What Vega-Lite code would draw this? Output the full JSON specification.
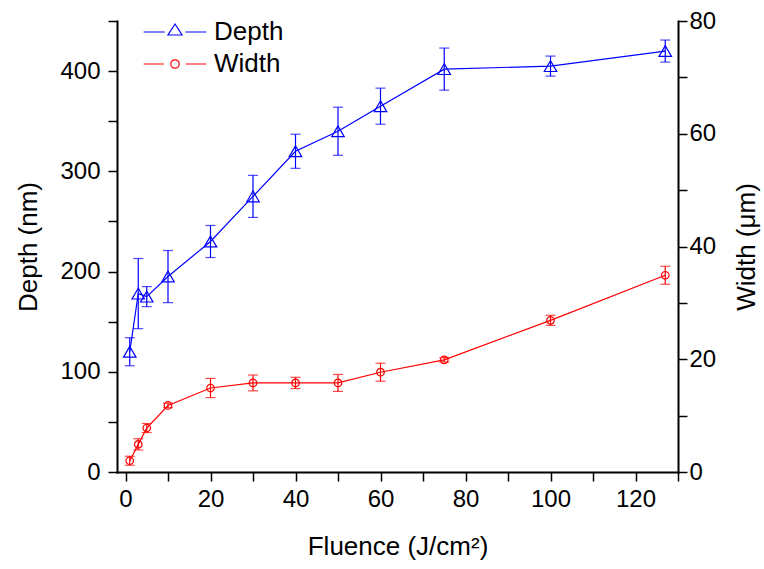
{
  "$schema": "https://vega.github.io/schema/vega-lite/v6.json",
  "width": 561,
  "height": 451,
  "autosize": "none",
  "padding": {"left": 117, "top": 21, "right": 86, "bottom": 97},
  "background": "white",
  "config": {
    "view": {"stroke": null},
    "font": "Liberation Sans",
    "axis": {
      "grid": false,
      "domainColor": "black",
      "domainWidth": 2,
      "domainCap": "square",
      "tickColor": "black",
      "tickWidth": 1.5,
      "tickSize": 9,
      "labelFont": "Liberation Sans",
      "labelFontSize": 24,
      "labelColor": "black",
      "labelOverlap": false,
      "labelFlush": false,
      "titleFont": "Liberation Sans",
      "titleFontSize": 26,
      "titleFontWeight": "normal",
      "titleColor": "black"
    }
  },
  "data": {
    "values": [
      {"series": "Depth", "fluence": 1, "value": 120, "err": 14},
      {"series": "Depth", "fluence": 3, "value": 178, "err": 35},
      {"series": "Depth", "fluence": 5, "value": 175, "err": 10},
      {"series": "Depth", "fluence": 10, "value": 195, "err": 26},
      {"series": "Depth", "fluence": 20, "value": 230, "err": 16},
      {"series": "Depth", "fluence": 30, "value": 275, "err": 21},
      {"series": "Depth", "fluence": 40, "value": 320, "err": 17},
      {"series": "Depth", "fluence": 50, "value": 340, "err": 24},
      {"series": "Depth", "fluence": 60, "value": 365, "err": 18},
      {"series": "Depth", "fluence": 75, "value": 402, "err": 21},
      {"series": "Depth", "fluence": 100, "value": 405, "err": 10},
      {"series": "Depth", "fluence": 127, "value": 420, "err": 11},
      {"series": "Width", "fluence": 1, "value": 2, "err": 0.8},
      {"series": "Width", "fluence": 3, "value": 4.9, "err": 1},
      {"series": "Width", "fluence": 5, "value": 7.8, "err": 0.8},
      {"series": "Width", "fluence": 10, "value": 11.8, "err": 0.4},
      {"series": "Width", "fluence": 20, "value": 14.9, "err": 1.7},
      {"series": "Width", "fluence": 30, "value": 15.8, "err": 1.4},
      {"series": "Width", "fluence": 40, "value": 15.8, "err": 1},
      {"series": "Width", "fluence": 50, "value": 15.8, "err": 1.5},
      {"series": "Width", "fluence": 60, "value": 17.7, "err": 1.6},
      {"series": "Width", "fluence": 75, "value": 19.9, "err": 0.4},
      {"series": "Width", "fluence": 100, "value": 26.9, "err": 0.9},
      {"series": "Width", "fluence": 127, "value": 34.9, "err": 1.6}
    ]
  },
  "encoding": {
    "x": {
      "field": "fluence",
      "type": "quantitative",
      "scale": {"domain": [-2, 130], "nice": false, "zero": false},
      "axis": {
        "title": "Fluence (J/cm²)",
        "values": [0, 10, 20, 30, 40, 50, 60, 70, 80, 90, 100, 110, 120, 130],
        "labelExpr": "datum.value % 20 === 0 ? datum.label : ''",
        "labelPadding": 6,
        "titlePadding": 22,
        "encode": {"ticks": {"update": {"y2": {"signal": "datum.value % 20 === 0 ? 9 : 5"}}}}
      }
    }
  },
  "layer": [
    {
      "transform": [{"filter": "datum.series === 'Depth'"}],
      "encoding": {
        "y": {
          "field": "value",
          "type": "quantitative",
          "scale": {"domain": [0, 450], "nice": false},
          "axis": {
            "orient": "left",
            "title": "Depth (nm)",
            "values": [0, 50, 100, 150, 200, 250, 300, 350, 400, 450],
            "labelExpr": "datum.value % 100 === 0 ? datum.label : ''",
            "labelPadding": 8,
            "titlePadding": 18,
            "encode": {"ticks": {"update": {"x2": {"signal": "datum.value % 100 === 0 ? -9 : -5"}}}}
          }
        }
      },
      "layer": [
        {
          "mark": {"type": "errorbar", "ticks": {"size": 10}, "color": "#0000ff", "thickness": 1.2},
          "encoding": {"yError": {"field": "err"}}
        },
        {
          "mark": {"type": "line", "strokeWidth": 1.2},
          "encoding": {
            "color": {
              "field": "series",
              "type": "nominal",
              "scale": {"domain": ["Depth", "Width"], "range": ["#0000ff", "#ff0000"]},
              "legend": {
                "orient": "none",
                "legendX": 42,
                "legendY": -5,
                "title": null,
                "symbolSize": 900,
                "symbolStrokeWidth": 1.2,
                "labelFontSize": 26,
                "labelFont": "Liberation Sans",
                "labelColor": "black",
                "labelOffset": 23,
                "rowPadding": 3,
                "encode": {
                  "symbols": {
                    "update": {
                      "shape": {"signal": "datum.value === 'Depth' ? 'M-2.09,0L-0.69,0M0.69,0L2.09,0M0,-0.53L0.47,0.2L-0.47,0.2Z' : 'M-2.09,0L-0.75,0M0.72,0L2.09,0M0.28,0A0.28,0.28,0,1,1,-0.28,0A0.28,0.28,0,1,1,0.28,0Z'"},
                      "fill": {"value": "transparent"}
                    }
                  }
                }
              }
            }
          }
        },
        {
          "mark": {"type": "point", "shape": "triangle-up", "size": 156, "filled": false, "strokeWidth": 1.2, "color": "#0000ff", "opacity": 1}
        }
      ]
    },
    {
      "transform": [{"filter": "datum.series === 'Width'"}],
      "encoding": {
        "y": {
          "field": "value",
          "type": "quantitative",
          "scale": {"domain": [0, 80], "nice": false},
          "axis": {
            "orient": "right",
            "title": "Width (μm)",
            "values": [0, 10, 20, 30, 40, 50, 60, 70, 80],
            "labelExpr": "datum.value % 20 === 0 ? datum.label : ''",
            "labelPadding": 2,
            "titlePadding": 18,
            "titleAngle": 270,
            "titleBaseline": "top",
            "encode": {"ticks": {"update": {"x2": {"signal": "datum.value % 20 === 0 ? -9 : -5"}}}}
          }
        }
      },
      "layer": [
        {
          "mark": {"type": "errorbar", "ticks": {"size": 10}, "color": "#ff0000", "thickness": 1.2},
          "encoding": {"yError": {"field": "err"}}
        },
        {
          "mark": {"type": "line", "strokeWidth": 1.2},
          "encoding": {
            "color": {
              "field": "series",
              "type": "nominal",
              "scale": {"domain": ["Depth", "Width"], "range": ["#0000ff", "#ff0000"]},
              "legend": {
                "orient": "none",
                "legendX": 42,
                "legendY": -5,
                "title": null,
                "symbolSize": 900,
                "symbolStrokeWidth": 1.2,
                "labelFontSize": 26,
                "labelFont": "Liberation Sans",
                "labelColor": "black",
                "labelOffset": 23,
                "rowPadding": 3,
                "encode": {
                  "symbols": {
                    "update": {
                      "shape": {"signal": "datum.value === 'Depth' ? 'M-2.09,0L-0.69,0M0.69,0L2.09,0M0,-0.53L0.47,0.2L-0.47,0.2Z' : 'M-2.09,0L-0.75,0M0.72,0L2.09,0M0.28,0A0.28,0.28,0,1,1,-0.28,0A0.28,0.28,0,1,1,0.28,0Z'"},
                      "fill": {"value": "transparent"}
                    }
                  }
                }
              }
            }
          }
        },
        {
          "mark": {"type": "point", "shape": "circle", "size": 57, "filled": false, "strokeWidth": 1.2, "color": "#ff0000", "opacity": 1}
        }
      ]
    }
  ],
  "resolve": {"scale": {"y": "independent"}, "axis": {"y": "independent"}}
}
